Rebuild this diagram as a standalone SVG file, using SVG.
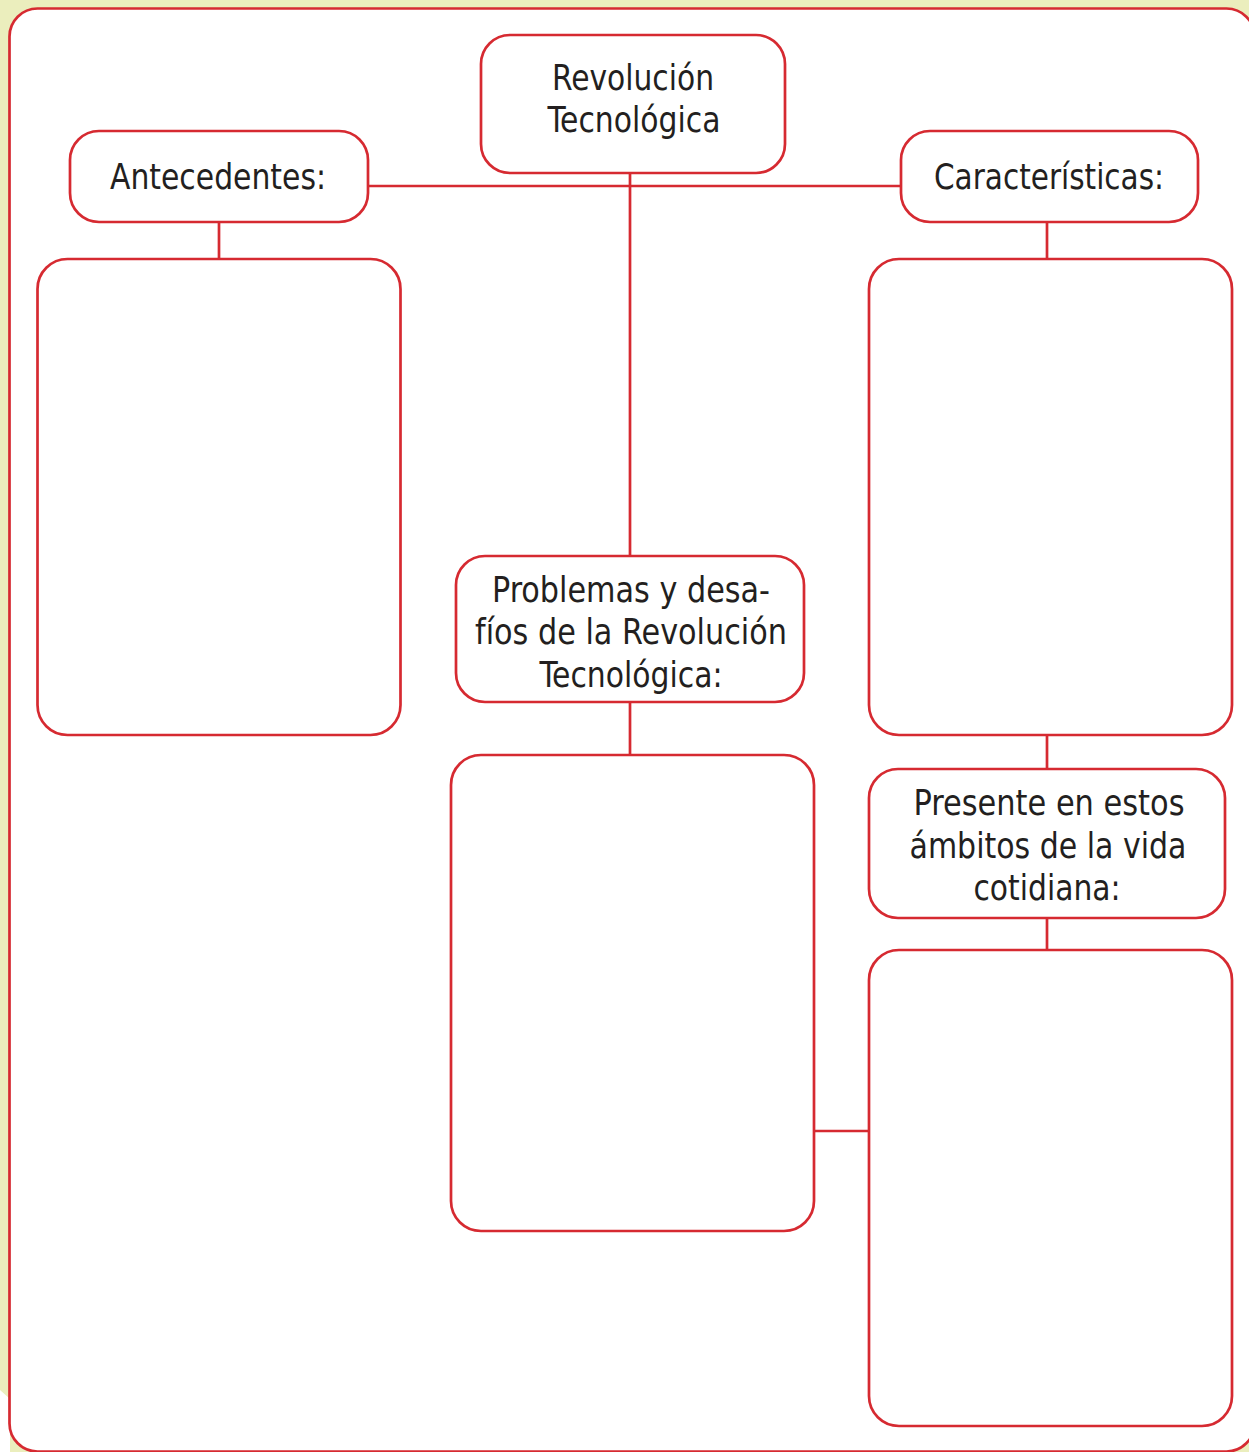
<svg xmlns="http://www.w3.org/2000/svg" width="1249" height="1452" viewBox="0 0 1249 1452">
<style>
.box{fill:#fff;stroke:#d62a31;stroke-width:2.7}
.ln{stroke:#d62a31;stroke-width:2.7;fill:none}
.t{font-family:"DejaVu Sans Condensed","DejaVu Sans",sans-serif;font-stretch:condensed;font-size:36px;fill:#231f20;text-anchor:middle}
</style>
<rect x="0" y="0" width="1249" height="1452" fill="#ebeebd"/>
<polygon points="0,1390 10,1399 10,1452 0,1452" fill="#ffffff"/>
<rect id="frame" x="9.5" y="8.5" width="1245" height="1443" rx="28" class="box"/>
<g id="connectors">
<line class="ln" x1="368" y1="186" x2="901" y2="186"/>
<line class="ln" x1="630" y1="173" x2="630" y2="556"/>
<line class="ln" x1="219" y1="222" x2="219" y2="259"/>
<line class="ln" x1="1047" y1="222" x2="1047" y2="259"/>
<line class="ln" x1="1047" y1="735" x2="1047" y2="769"/>
<line class="ln" x1="1047" y1="918" x2="1047" y2="950"/>
<line class="ln" x1="630" y1="702" x2="630" y2="755"/>
<line class="ln" x1="814" y1="1131" x2="869" y2="1131"/>
</g>
<g id="node-revolucion">
<rect class="box" x="481" y="35" width="304" height="138" rx="29"/>
<text class="t" x="633" y="90" textLength="162" lengthAdjust="spacingAndGlyphs">Revolución</text>
<text class="t" x="634" y="132" textLength="173" lengthAdjust="spacingAndGlyphs">Tecnológica</text>
</g>
<g id="node-antecedentes">
<rect class="box" x="70" y="131" width="298" height="91" rx="29"/>
<text class="t" x="218" y="189" textLength="216" lengthAdjust="spacingAndGlyphs">Antecedentes:</text>
</g>
<g id="node-caracteristicas">
<rect class="box" x="901" y="131" width="297" height="91" rx="29"/>
<text class="t" x="1049" y="189" textLength="230" lengthAdjust="spacingAndGlyphs">Características:</text>
</g>
<g id="box-antecedentes">
<rect class="box" x="37.5" y="259" width="363" height="476" rx="30"/>
</g>
<g id="box-caracteristicas">
<rect class="box" x="869" y="259" width="363" height="476" rx="30"/>
</g>
<g id="node-problemas">
<rect class="box" x="456" y="556" width="348" height="146" rx="29"/>
<text class="t" x="631" y="602" textLength="278" lengthAdjust="spacingAndGlyphs">Problemas y desa-</text>
<text class="t" x="631" y="644" textLength="312" lengthAdjust="spacingAndGlyphs">fíos de la Revolución</text>
<text class="t" x="631" y="687" textLength="183" lengthAdjust="spacingAndGlyphs">Tecnológica:</text>
</g>
<g id="box-problemas">
<rect class="box" x="451" y="755" width="363" height="476" rx="30"/>
</g>
<g id="node-presente">
<rect class="box" x="869" y="769" width="356" height="149" rx="29"/>
<text class="t" x="1049" y="815" textLength="271" lengthAdjust="spacingAndGlyphs">Presente en estos</text>
<text class="t" x="1048" y="858" textLength="277" lengthAdjust="spacingAndGlyphs">ámbitos de la vida</text>
<text class="t" x="1047" y="900" textLength="147" lengthAdjust="spacingAndGlyphs">cotidiana:</text>
</g>
<g id="box-presente">
<rect class="box" x="869" y="950" width="363" height="476" rx="30"/>
</g>
</svg>
